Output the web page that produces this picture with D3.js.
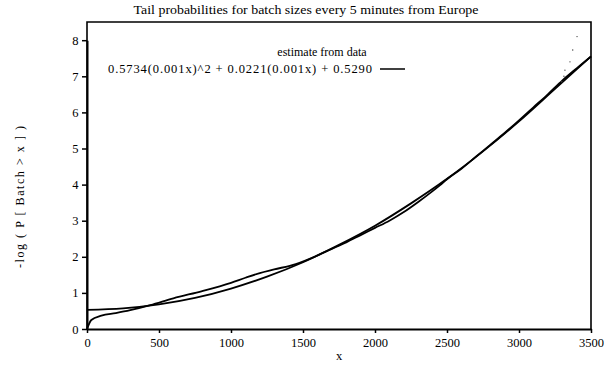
<!DOCTYPE html>
<html><head><meta charset="utf-8">
<script src="https://cdn.jsdelivr.net/npm/d3@7"></script>
<style>body{margin:0;background:#fff}svg{display:block}</style>
</head><body>
<svg id="c" width="604" height="368"></svg>
<script>
const titleText = "Tail probabilities for batch sizes every 5 minutes from Europe";
const xLabel = "x";
const yLabel = "-log ( P [ Batch > x ] )";
const legendTitle = "estimate from data";
const legendFit = "0.5734(0.001x)^2 + 0.0221(0.001x) + 0.5290";
const xTicks = [0, 500, 1000, 1500, 2000, 2500, 3000, 3500];
const yTicks = [0, 1, 2, 3, 4, 5, 6, 7, 8];

const dataX = [0, 30, 100, 200, 300, 440, 600, 800, 1000, 1100, 1200, 1300, 1450, 1550, 1700, 1800, 1900, 2000, 2100, 2200, 2300, 2400, 2450, 2500, 2600, 2700, 2800, 2900, 3000, 3100, 3200, 3300, 3400, 3500];
const dataY = [0, 0.25, 0.37, 0.44, 0.52, 0.66, 0.85, 1.05, 1.28, 1.42, 1.55, 1.65, 1.80, 1.95, 2.22, 2.40, 2.60, 2.80, 3.00, 3.24, 3.52, 3.82, 3.98, 4.15, 4.44, 4.77, 5.10, 5.43, 5.78, 6.14, 6.50, 6.88, 7.22, 7.55];
const fitX = [0, 250, 500, 750, 1000, 1250, 1500, 1750, 2000, 2250, 2500, 2750, 3000, 3250, 3500];
const fitY = [0.53, 0.57, 0.68, 0.86, 1.12, 1.45, 1.85, 2.33, 2.86, 3.48, 4.16, 4.92, 5.75, 6.65, 7.55];
const tailX = [3297, 3312, 3319, 3354, 3373, 3403];
const tailY = [6.85, 7.0, 7.17, 7.4, 7.73, 8.1];

const svg = d3.select("#c");
const L = 87, R = 591, T = 22, B = 329;
const x = d3.scaleLinear().domain([0, 3500]).range([L, R]);
const y = d3.scaleLinear().domain([0, 8]).range([B, B - 8 * 36.1]);
const serif = "'Liberation Serif','DejaVu Serif',serif";

svg.append("text").attr("x", 306).attr("y", 14).attr("text-anchor", "middle")
  .attr("font-family", serif).attr("font-size", 12.5)
  .attr("textLength", 345).attr("lengthAdjust", "spacingAndGlyphs").text(titleText);

// frame
svg.append("path").attr("d", `M${L},${B}V${T}H${R}V${B}`).attr("fill", "none")
  .attr("stroke", "#000").attr("stroke-width", 1.6);

const xa = svg.append("g").attr("transform", `translate(0,${B})`)
  .call(d3.axisBottom(x).tickValues(xTicks).tickSize(4).tickSizeOuter(0).tickFormat(d3.format("d")));
const ya = svg.append("g").attr("transform", `translate(${L},0)`)
  .call(d3.axisLeft(y).tickValues(yTicks).tickSize(5).tickSizeOuter(0).tickFormat(d3.format("d")));
[xa, ya].forEach(a => {
  a.select(".domain").attr("stroke-width", 2);
  a.selectAll(".tick line").attr("stroke-width", 1.5);
  a.selectAll("text").attr("font-family", serif).attr("font-size", 12.5).attr("fill", "#000");
});
xa.selectAll("text").attr("dy", "0.9em");
ya.selectAll("text").attr("dx", "-0.05em");

svg.append("text").attr("x", 339).attr("y", 360).attr("text-anchor", "middle")
  .attr("font-family", serif).attr("font-size", 12.5).text(xLabel);
svg.append("text").attr("transform", "translate(24,197) rotate(-90)").attr("text-anchor", "middle")
  .attr("font-family", serif).attr("font-size", 12)
  .attr("textLength", 142).attr("lengthAdjust", "spacing").text(yLabel);

const line = d3.line().x(d => x(d[0])).y(d => y(d[1])).curve(d3.curveMonotoneX);
svg.append("path").datum(dataX.map((v, i) => [v, dataY[i]])).attr("d", line)
  .attr("fill", "none").attr("stroke", "#000").attr("stroke-width", 1.8);
svg.append("path").datum(fitX.map((v, i) => [v, fitY[i]])).attr("d", line)
  .attr("fill", "none").attr("stroke", "#000").attr("stroke-width", 1.8);
svg.selectAll(".dot").data(tailX.map((v, i) => [v, tailY[i]])).enter().append("circle")
  .attr("cx", d => x(d[0])).attr("cy", d => y(d[1])).attr("r", 0.7).attr("fill", "#444");

svg.append("text").attr("x", 322).attr("y", 56).attr("text-anchor", "middle")
  .attr("font-family", serif).attr("font-size", 12).text(legendTitle);
svg.append("text").attr("x", 108).attr("y", 73)
  .attr("font-family", serif).attr("font-size", 12.5)
  .attr("textLength", 264).attr("lengthAdjust", "spacing").text(legendFit);
svg.append("line").attr("x1", 380).attr("x2", 405).attr("y1", 69).attr("y2", 69)
  .attr("stroke", "#000").attr("stroke-width", 1.5);
</script>
</body></html>
